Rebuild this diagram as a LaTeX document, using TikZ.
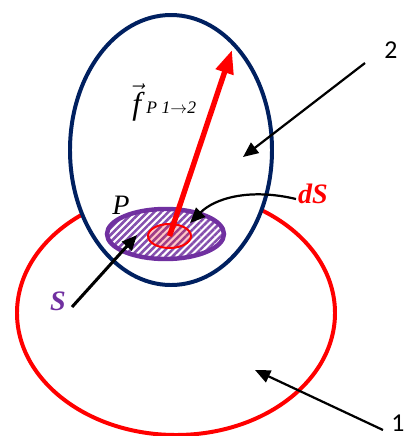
\documentclass[tikz,border=0pt]{standalone}
\usepackage{fontspec}
\setmainfont{Liberation Serif}
\newfontfamily\numfont{Carlito}
\usepackage{tikz}
\usetikzlibrary{
  arrows.meta,
  shapes.geometric,
  patterns.meta
}
\definecolor{bdNavy}{HTML}{002060}
\definecolor{bdRed}{HTML}{FF0000}
\definecolor{bdPurple}{HTML}{7030A0}
\tikzset{
  body/.style={draw, ellipse, inner sep=0pt, line width=3.4pt},
  bodyone/.style={body, draw=bdRed, minimum width=9.54cm, minimum height=7.32cm},
  bodytwo/.style={body, draw=bdNavy, fill=white, minimum width=6.06cm, minimum height=8.1cm},
  surface/.style={
    body, draw=bdPurple, line width=3.8pt, minimum width=3.51cm, minimum height=1.5cm,
    preaction={fill=white}, pattern={Lines[angle=45, distance=4.2pt, line width=2.2pt]},
    pattern color=bdPurple!85
  },
  element/.style={
    draw, ellipse, inner sep=0pt, draw=bdRed, line width=1.7pt,
    fill=bdRed, fill opacity=0.22, minimum width=1.29cm, minimum height=0.72cm
  },
  force/.style={-{Triangle[length=20pt, width=15pt]}, line width=4.6pt, bdRed},
  pointer/.style={-{Triangle[length=13pt, width=11pt]}, line width=1.9pt, black},
  symlab/.style={inner sep=1pt, font=\fontsize{24}{26}\selectfont},
  numlab/.style={inner sep=1pt, font=\numfont\fontsize{22}{24}\selectfont}
}
\newcommand{\sublab}[1]{\raisebox{0.5pt}{\fontsize{15}{15}\selectfont #1}}
\begin{document}
\begin{tikzpicture}[x=0.03cm, y=-0.03cm]
  \useasboundingbox (0,0) rectangle (417,436);
  % bodies 1 and 2, contact surface S
  \node[bodyone] (body1) at (176,313) {};
  \node[bodytwo] (body2) at (171,150) {};
  \node[surface] (surf) at (165.5,234) {};
  \node[element] (ds) at (169.5,236) {};
  % force on dS
  \coordinate (ftip) at (232,50);
  \draw[force] (ds.center) -- (ftip);
  % labels
  \node[symlab, anchor=base west] (flab) at (131,114)
    {\fontsize{27}{30}\selectfont$\vec{\textit{f}}$\,\sublab{\textit{P 1}$\rightarrow$\textit{2}}};
  \node[symlab] (plab) at (121,205) {\textit{P}};
  \node[symlab, text=bdPurple] (slab) at (58,301) {\textbf{\textit{S}}};
  \node[symlab, text=bdRed] (dslab) at (313,194) {\textbf{\textit{dS}}};
  \node[numlab] (lab2) at (391,50) {2};
  \node[numlab] (lab1) at (398,423) {1};
  % pointers
  \coordinate (stail) at (72,307);
  \coordinate (stip) at (137,235);
  \coordinate (dstail) at (296,199);
  \coordinate (dstip) at (190,223);
  \coordinate (tail2) at (365,63);
  \coordinate (tip2) at (243,157);
  \coordinate (tail1) at (383,430);
  \coordinate (tip1) at (255,370);
  \draw[pointer, line width=2.6pt] (stail) -- (stip);
  \draw[pointer] (dstail) .. controls (250,188) and (215,198) .. (dstip);
  \draw[pointer] (tail2) -- (tip2);
  \draw[pointer] (tail1) -- (tip1);
\end{tikzpicture}
\end{document}
